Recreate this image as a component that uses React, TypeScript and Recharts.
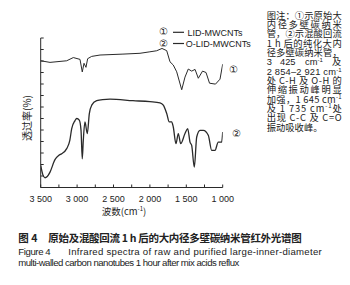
import React from 'react';
import { LineChart, Line, XAxis, YAxis } from 'recharts';

const wavenumbers1 = [3500, 3372, 3143, 3052, 2960, 2929, 2905, 2878, 2855, 2800, 2685, 2370, 2136, 2000, 1907, 1834, 1769, 1724, 1679, 1632, 1563, 1518, 1473, 1426, 1380, 1335, 1277, 1229, 1181, 1099, 1037, 1000];
const transmittance1 = [11.02, 10.88, 11.02, 11.3, 11.14, 10.05, 10.8, 10.45, 11.2, 11.4, 11.52, 11.6, 11.67, 11.8, 11.89, 12.09, 11.9, 10.93, 10.65, 10.06, 8.5, 9.6, 10.3, 10.12, 10.27, 9.5, 10.12, 10.0, 9.07, 8.99, 9.42, 10.73];

const wavenumbers2 = [3500, 3470, 3441, 3410, 3372, 3304, 3250, 3212, 3143, 3100, 3074, 3030, 3005, 2970, 2946, 2929, 2915, 2892, 2860, 2832, 2799, 2731, 2650, 2548, 2232, 1999, 1861, 1816, 1769, 1734, 1701, 1679, 1642, 1610, 1577, 1518, 1481, 1449, 1426, 1390, 1357, 1312, 1266, 1198, 1151, 1106, 1061, 1014, 1000];
const transmittance2 = [1.92, 1.1, 0.85, 0.95, 1.34, 2.42, 2.8, 2.94, 3.38, 4.1, 5.12, 5.8, 6.0, 5.85, 4.97, 2.5, 4.1, 5.7, 4.69, 6.43, 7.16, 7.55, 7.65, 7.68, 7.55, 7.46, 7.36, 7.16, 6.43, 5.7, 5.7, 5.26, 3.81, 4.69, 3.81, 4.69, 5.12, 3.95, 3.66, 1.77, 4.39, 4.97, 4.97, 4.54, 3.23, 3.23, 3.95, 3.95, 4.83];

const xTicks = [3500, 3250, 3000, 2750, 2500, 2250, 2000, 1750, 1500, 1250, 1000];
const xTickLabels: Record<number, string> = { 3500: '3 500', 3000: '3 000', 2500: '2 500', 2000: '2 000', 1500: '1 500', 1000: '1 000' };
const yTicks = [0, 1, 2, 3, 4, 5, 6, 7, 8, 9, 10, 11, 12, 13];

const seriesNames = ['LID-MWCNTs', 'O-LID-MWCNTs'];
const seriesMarks = ['①', '②'];

const noteLines = [
  '图注：①示原始大',
  '内径多壁碳纳米',
  '管，②示混酸回流',
  '1 h 后的纯化大内',
  '径多壁碳纳米管，',
];
const captionCn = ['图 4', '原始及混酸回流 1 h 后的大内径多壁碳纳米管红外光谱图'];
const captionEn = ['Figure 4', 'Infrared spectra of raw and purified large-inner-diameter', 'multi-walled carbon nanotubes 1 hour after mix acids reflux'];

const data1 = wavenumbers1.map((wn, i) => ({ wn, t: transmittance1[i] }));
const data2 = wavenumbers2.map((wn, i) => ({ wn, t: transmittance2[i] }));

const INK = '#2a2a2a';
const CJK = '"Noto Sans CJK SC", "Liberation Sans", sans-serif';
const LAT = '"Liberation Sans", Arial, sans-serif';

const Sup = ({ children }: { children: React.ReactNode }) => (
  <tspan baselineShift="super" fontSize={6}>{children}</tspan>
);

export default function App() {
  const noteX = 266.7;
  const noteW = 75;
  const b = (i: number) => 18.6 + 9.33 * i;
  return (
    <div style={{ position: 'absolute', left: 0, top: 0, width: 350, height: 285, background: '#fff' }}>
      <LineChart
        width={350}
        height={285}
        margin={{ top: 38, right: 127.3, bottom: 67.5, left: 40.7 }}
      >
        <XAxis
          dataKey="wn"
          type="number"
          domain={[1000, 3500]}
          reversed
          ticks={xTicks}
          tickFormatter={(v: number) => xTickLabels[v] || ''}
          tickSize={-3}
          tickMargin={11}
          height={30}
          stroke={INK}
          tick={{ fill: '#222', fontSize: 9, fontFamily: LAT }}
          interval={0}
          allowDataOverflow
        />
        <YAxis
          dataKey="t"
          type="number"
          domain={[0, 13]}
          ticks={yTicks}
          tickFormatter={() => ''}
          mirror
          tickSize={3}
          stroke={INK}
          interval={0}
        />
        <Line data={data1} dataKey="t" type="linear" stroke={INK} strokeWidth={1} dot={false} isAnimationActive={false} />
        <Line data={data2} dataKey="t" type="monotone" stroke={INK} strokeWidth={1.3} dot={false} isAnimationActive={false} />
      </LineChart>
      <svg width={350} height={285} style={{ position: 'absolute', left: 0, top: 0, pointerEvents: 'none' }}>
        {/* legend */}
        <text x={163} y={35} fontSize={10} fontFamily={LAT} textAnchor="middle" fill="#222">{seriesMarks[0]}</text>
        <line x1={173} x2={184} y1={32.3} y2={32.3} stroke={INK} strokeWidth={1.2} />
        <text x={187.5} y={35.5} fontSize={9} fontFamily={LAT} fill="#222">{seriesNames[0]}</text>
        <text x={163} y={46.5} fontSize={10} fontFamily={LAT} textAnchor="middle" fill="#222">{seriesMarks[1]}</text>
        <line x1={173} x2={184} y1={43.5} y2={43.5} stroke={INK} strokeWidth={1.2} />
        <text x={185.8} y={46.7} fontSize={9} fontFamily={LAT} fill="#222">{seriesNames[1]}</text>
        {/* series marks */}
        <text x={233.5} y={73} fontSize={10} fontFamily={LAT} textAnchor="middle" fill="#222">{seriesMarks[0]}</text>
        <text x={236.7} y={136.5} fontSize={10} fontFamily={LAT} textAnchor="middle" fill="#222">{seriesMarks[1]}</text>
        {/* axis titles */}
        <text transform="translate(31,118) rotate(-90)" fontSize={10} fontFamily={CJK} textAnchor="middle" fill="#222">透过率(%)</text>
        <text x={124} y={215} fontSize={9.5} fontFamily={CJK} textAnchor="middle" fill="#222">
          波数(cm<Sup>-1</Sup>)
        </text>
        {/* note */}
        <g fontSize={9.3} fontFamily={CJK} fill="#222">
          {noteLines.map((s, i) => (
            <text key={i} x={noteX} y={b(i)} textLength={noteW} lengthAdjust="spacing">{s}</text>
          ))}
          <text x={noteX} y={b(5)} fontFamily={LAT}>3</text>
          <text x={280} y={b(5)} fontFamily={LAT}>425</text>
          <text x={305} y={b(5)} fontFamily={LAT}>cm<Sup>-1</Sup></text>
          <text x={332} y={b(5)}>及</text>
          <text x={noteX} y={b(6)} textLength={noteW} lengthAdjust="spacing" fontFamily={LAT}>2 854–2 921 cm<Sup>-1</Sup></text>
          <text x={noteX} y={b(7)} textLength={noteW} lengthAdjust="spacing">处 C-H 及 O-H 的</text>
          <text x={noteX} y={b(8)} textLength={noteW} lengthAdjust="spacing">伸缩振动峰明显</text>
          <text x={noteX} y={b(9)} textLength={noteW} lengthAdjust="spacing">加强，1 645 cm<Sup>-1</Sup></text>
          <text x={noteX} y={b(10)} textLength={noteW} lengthAdjust="spacing">及 1 735 cm<Sup>-1</Sup>处</text>
          <text x={noteX} y={b(11)} textLength={noteW} lengthAdjust="spacing">出现 C-C 及 C=O</text>
          <text x={noteX} y={b(12)}>振动吸收峰。</text>
        </g>
        {/* caption */}
        <g fill="#222">
          <text x={18.3} y={242} fontSize={10.5} fontFamily={CJK} fontWeight="bold">{captionCn[0]}</text>
          <text x={48.3} y={242} fontSize={10.5} fontFamily={CJK} fontWeight="bold" textLength={253.4} lengthAdjust="spacing">{captionCn[1]}</text>
          <text x={18.3} y={254.5} fontSize={9.6} fontFamily={LAT} textLength={32.4} lengthAdjust="spacing">{captionEn[0]}</text>
          <text x={68.3} y={254.5} fontSize={9.6} fontFamily={LAT} textLength={253.4} lengthAdjust="spacing">{captionEn[1]}</text>
          <text x={18.3} y={266} fontSize={9.6} fontFamily={LAT} textLength={221} lengthAdjust="spacing">{captionEn[2]}</text>
        </g>
      </svg>
    </div>
  );
}
